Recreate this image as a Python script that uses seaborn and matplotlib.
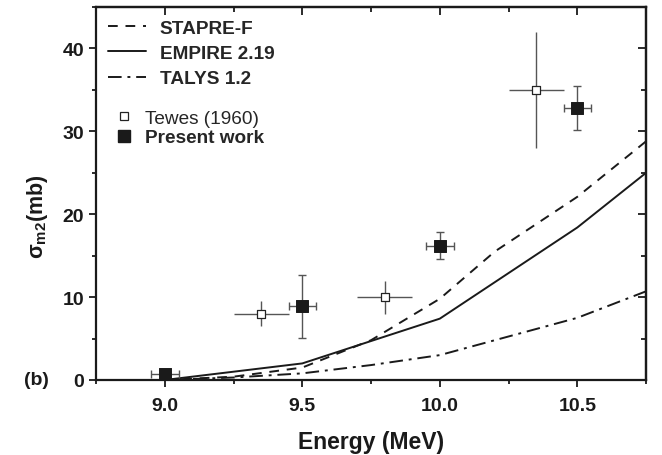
import numpy as np
import pandas as pd
import matplotlib
matplotlib.use("Agg")
import matplotlib.pyplot as plt
import seaborn as sns
from matplotlib.lines import Line2D
from matplotlib.ticker import MultipleLocator

# model curves
stapre_e = [9.0, 9.25, 9.5, 9.75, 10.0, 10.2, 10.5, 10.75]
stapre_s = [0.0, 0.4, 1.5, 4.8, 9.8, 15.5, 22.1, 28.8]
empire_e = [9.0, 9.5, 10.0, 10.5, 10.75]
empire_s = [0.0, 2.0, 7.4, 18.4, 25.0]
talys_e = [9.0, 9.25, 9.5, 9.75, 10.0, 10.5, 10.75]
talys_s = [0.0, 0.3, 0.8, 1.8, 3.0, 7.5, 10.7]

# measured points
tewes_e = [9.35, 9.8, 10.35]
tewes_s = [8.0, 10.0, 35.0]
tewes_de = [0.1, 0.1, 0.1]
tewes_ds = [1.5, 2.0, 7.0]
present_e = [9.0, 9.5, 10.0, 10.5]
present_s = [0.7, 8.9, 16.2, 32.8]
present_de = [0.05, 0.05, 0.05, 0.05]
present_ds = [0.3, 3.8, 1.6, 2.7]

sns.set_style("ticks")
plt.rcParams["font.family"] = ["Liberation Sans", "DejaVu Sans"]
plt.rcParams["font.weight"] = "bold"
plt.rcParams["mathtext.default"] = "regular"

ink = "#1a1a1a"
fig = plt.figure(figsize=(6.62, 4.56), dpi=100)
ax = fig.add_axes([0.145, 0.1645, 0.831, 0.818])

curves = pd.concat([
    pd.DataFrame({"E": stapre_e, "s": stapre_s, "m": "STAPRE-F"}),
    pd.DataFrame({"E": empire_e, "s": empire_s, "m": "EMPIRE 2.19"}),
    pd.DataFrame({"E": talys_e, "s": talys_s, "m": "TALYS 1.2"}),
])
styles = {"STAPRE-F": (0, (5, 4)), "EMPIRE 2.19": "-", "TALYS 1.2": (0, (7, 3, 1.5, 3))}
for name, sub in curves.groupby("m", sort=False):
    sns.lineplot(data=sub, x="E", y="s", ax=ax, color=ink, lw=1.4,
                 linestyle=styles[name], legend=False)

ax.errorbar(tewes_e, tewes_s, xerr=tewes_de, yerr=tewes_ds, fmt="none",
            ecolor="#555555", elinewidth=1.0, capsize=0, zorder=3)
ax.errorbar(present_e, present_s, xerr=present_de, yerr=present_ds, fmt="none",
            ecolor="#555555", elinewidth=1.0, capsize=3, capthick=1.0, zorder=3)
sns.scatterplot(x=tewes_e, y=tewes_s, ax=ax, marker="s", s=28, color="white",
                edgecolor="#222222", linewidth=0.9, zorder=4)
sns.scatterplot(x=present_e, y=present_s, ax=ax, marker="s", s=75, color=ink,
                edgecolor=ink, zorder=4)

ax.set_xlim(8.75, 10.75)
ax.set_ylim(0, 45)
ax.set_xticks([9.0, 9.5, 10.0, 10.5])
ax.set_xticklabels(["9.0", "9.5", "10.0", "10.5"])
ax.xaxis.set_minor_locator(MultipleLocator(0.25))
ax.yaxis.set_major_locator(MultipleLocator(10))
ax.yaxis.set_minor_locator(MultipleLocator(5))
for s in ax.spines.values():
    s.set_linewidth(1.6)
    s.set_color(ink)
ax.tick_params(axis="both", which="both", labelsize=14, colors=ink, width=1.3, direction="out")
ax.tick_params(which="major", length=5)
ax.tick_params(which="minor", length=3)
ax.tick_params(axis="x", pad=7)

# inward ticks on top and right
secx = ax.secondary_xaxis("top")
secx.set_xticks([9.0, 9.5, 10.0, 10.5])
secx.xaxis.set_minor_locator(MultipleLocator(0.25))
secx.tick_params(which="both", direction="in", labeltop=False, colors=ink, width=1.3)
secx.tick_params(which="major", length=6)
secx.tick_params(which="minor", length=3.5)
secy = ax.secondary_yaxis("right")
secy.yaxis.set_major_locator(MultipleLocator(10))
secy.yaxis.set_minor_locator(MultipleLocator(5))
secy.tick_params(which="both", direction="in", labelright=False, colors=ink, width=1.3)
secy.tick_params(which="major", length=6)
secy.tick_params(which="minor", length=3.5)
for sec in (secx, secy):
    for s in sec.spines.values():
        s.set_linewidth(1.6)
        s.set_color(ink)

ax.set_xlabel("Energy (MeV)", fontsize=16.5, fontweight="bold", color=ink, labelpad=12)
ax.set_ylabel(r"$\sigma_{m2}$(mb)", fontsize=15.5, fontweight="bold", color=ink)
ax.yaxis.label.set_va("center")
ax.yaxis.set_label_coords(-0.107, 0.44)
fig.text(0.036, 1 - 381 / 456, "(b)", fontsize=14, fontweight="bold", va="center", ha="left",
         color=ink)

h1 = [Line2D([], [], color=ink, lw=1.4, linestyle=styles[k]) for k in styles]
leg1 = ax.legend(h1, list(styles), loc="upper left", bbox_to_anchor=(0.0, 1.0), frameon=False,
                 handlelength=2.0, handletextpad=0.7, prop={"weight": "bold", "size": 13.7},
                 labelspacing=0.42, borderaxespad=0.35, borderpad=0.3)
ax.add_artist(leg1)
h2 = [Line2D([], [], marker="s", ls="none", mfc="white", mec="#222222", ms=5.5, mew=0.9),
      Line2D([], [], marker="s", ls="none", mfc=ink, mec=ink, ms=8.5)]
leg2 = ax.legend(h2, ["Tewes (1960)", "Present work"], loc="upper left",
                 bbox_to_anchor=(0.02, 0.745), frameon=False, handlelength=1.0,
                 handletextpad=0.6, prop={"size": 13.7}, labelspacing=0.1, borderaxespad=0.0)
leg2.get_texts()[0].set_fontweight("normal")
leg2.get_texts()[1].set_fontweight("bold")

fig.savefig("out.png", dpi=100)
